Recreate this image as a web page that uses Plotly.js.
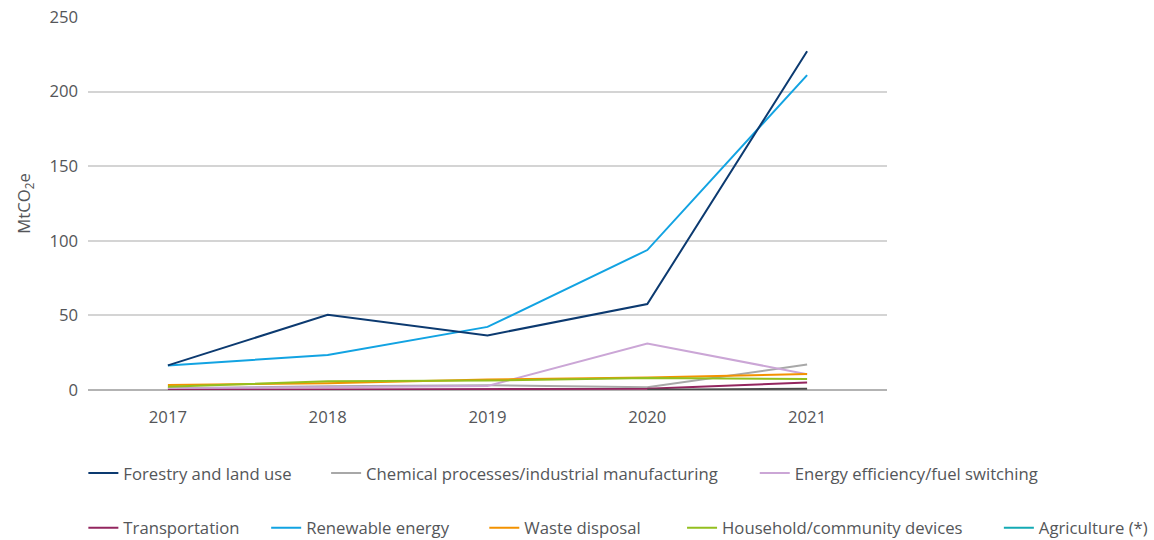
<!DOCTYPE html>
<html>
<head>
<meta charset="utf-8">
<script src="https://cdn.plot.ly/plotly-3.0.1.min.js"></script>
<style>html,body{margin:0;padding:0;background:#fff;}#chart{width:1154px;height:540px;}</style>
</head>
<body>
<div id="chart"></div>
<script>
const years = [2017, 2018, 2019, 2020, 2021];
const forestry = [16.5, 50.4, 36.6, 57.6, 227];
const chemical = [1.1, 2.5, 3.2, 1.8, 17.1];
const energyEff = [1.0, 2.0, 2.7, 31.2, 10.6];
const transportation = [0, 0.2, 0.5, 0.9, 5.0];
const renewable = [16.5, 23.4, 42.3, 93.8, 211];
const waste = [3.4, 4.6, 7.0, 8.3, 10.8];
const household = [2.1, 5.9, 6.3, 8.1, 7.4];
const agriculture = [null, null, null, null, null];
const other = [null, null, null, 0.2, 0.9];

const seriesNames = ["Forestry and land use", "Chemical processes/industrial manufacturing", "Energy efficiency/fuel switching",
  "Transportation", "Renewable energy", "Waste disposal", "Household/community devices", "Agriculture (*)"];
const seriesValues = [forestry, chemical, energyEff, transportation, renewable, waste, household, agriculture];
const colors = ["#0c3a70", "#a8a8a8", "#cba6d6", "#93265f", "#12a3e2", "#f39200", "#93bf1f", "#14aab4"];

const legendPos = [
  [-0.0058, -0.223], [0.298, -0.223], [0.8345, -0.223],
  [-0.0058, -0.37], [0.223, -0.37], [0.496, -0.37], [0.7435, -0.37], [1.140, -0.37]
];

const font = {family: "Open Sans, sans-serif", size: 16.7, color: "#545659"};

const traces = [];
const order = [1, 2, 3, 5, 6, 7, 4, 0];
order.forEach(i => {
  traces.push({
    x: years, y: seriesValues[i], name: seriesNames[i], type: "scatter", mode: "lines",
    line: {color: colors[i], width: 2},
    legend: i === 0 ? "legend" : "legend" + (i + 1),
    hoverinfo: "x+y+name"
  });
});
traces.push({x: years, y: other, name: "Other", type: "scatter", mode: "lines",
  line: {color: "#4d4d4d", width: 2}, showlegend: false});

const layout = {
  width: 1154, height: 540,
  margin: {l: 88, r: 267, t: 17, b: 150, autoexpand: false},
  paper_bgcolor: "#fff", plot_bgcolor: "#fff",
  font: font,
  xaxis: {range: [2016.5, 2021.5], tickvals: years, ticktext: years.map(String),
    showgrid: false, zeroline: false, showline: false, ticks: "", ticklabelstandoff: 15,
    tickfont: font, automargin: false},
  yaxis: {range: [0, 250], tickvals: [0, 50, 100, 150, 200, 250], showgrid: true,
    gridcolor: "#d4d4d4", gridwidth: 1.5, zeroline: true, zerolinecolor: "#b3b3b3", zerolinewidth: 2,
    showline: false, ticks: "", ticklabelstandoff: 9, tickfont: font, automargin: false,
    title: {text: "MtCO<sub>2</sub>e", font: font, standoff: 14}},
  showlegend: true
};
seriesNames.forEach((n, i) => {
  const key = i === 0 ? "legend" : "legend" + (i + 1);
  layout[key] = {x: legendPos[i][0], y: legendPos[i][1], xanchor: "left", yanchor: "middle",
    orientation: "h", font: font, bgcolor: "rgba(0,0,0,0)", borderwidth: 0, itemwidth: 30,
    traceorder: "normal"};
});

Plotly.newPlot("chart", traces, layout, {displayModeBar: false, responsive: false});
</script>
</body>
</html>
